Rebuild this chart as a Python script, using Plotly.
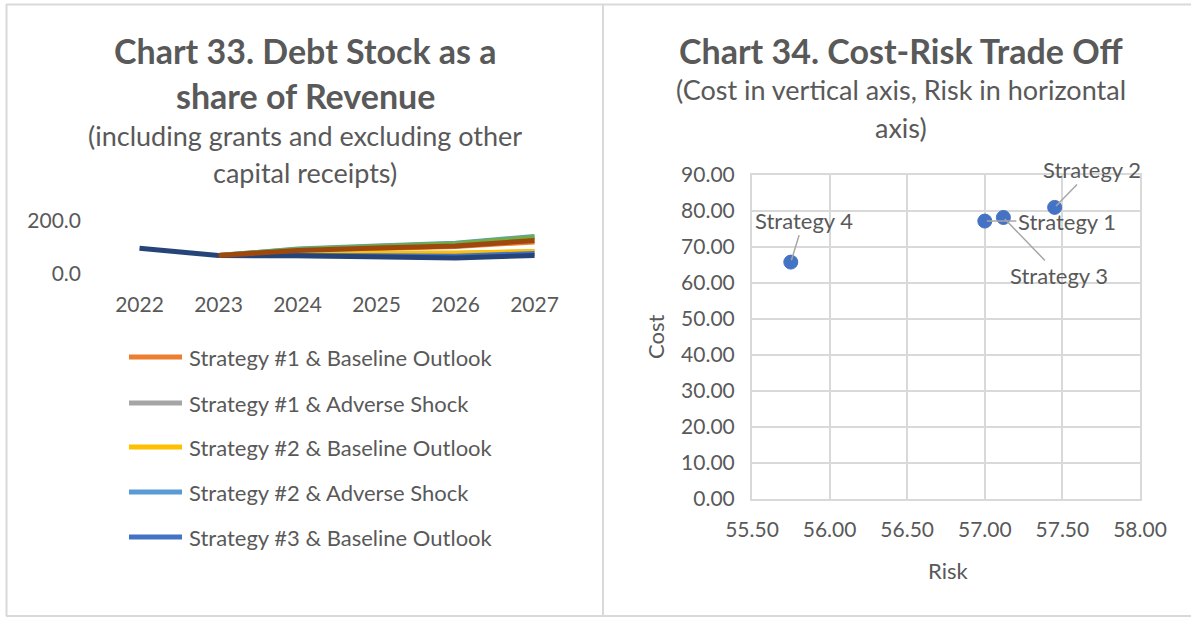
import plotly.graph_objects as go

W, H = 1191, 618

def px(x):
    return x / W

def py(y):
    return 1 - y / H

# ---------------- data ----------------
years = ["2022", "2023", "2024", "2025", "2026", "2027"]

s1_base = [None, 69, 86, 95, 103, 120]
s1_adv = [None, 69, 75, 78, 78, 83]
s2_base = [None, 69, 75, 78, 78, 84]
s2_adv = [None, 69, 93, 105, 115, 140]
s3_base = [None, 69, 70, 68, 66, 77]
s3_adv = [None, 69, 92, 103, 113, 137]
s4_base = [96, 69, 68, 65, 60, 69]
s4_adv = [None, 69, 88, 97, 105, 125]

series_names = [
    "Strategy #1 & Baseline Outlook",
    "Strategy #1 & Adverse Shock",
    "Strategy #2 & Baseline Outlook",
    "Strategy #2 & Adverse Shock",
    "Strategy #3 & Baseline Outlook",
    "Strategy #3 & Adverse Shock",
    "Strategy #4 & Baseline Outlook",
    "Strategy #4 & Adverse Shock",
]
series_values = [s1_base, s1_adv, s2_base, s2_adv, s3_base, s3_adv, s4_base, s4_adv]
series_colors = ["#ED7D31", "#A5A5A5", "#FFC000", "#5B9BD5",
                 "#4472C4", "#70AD47", "#264478", "#9E480E"]

strategies = ["Strategy 1", "Strategy 2", "Strategy 3", "Strategy 4"]
risk = [57.00, 57.45, 57.12, 55.75]
cost = [77.2, 81.0, 78.2, 65.8]

# ---------------- figure ----------------
FONT = "Lato"
TXT = "#595959"
GRID = "#D9D9D9"

fig = go.Figure()

for name, vals, col in zip(series_names, series_values, series_colors):
    fig.add_trace(go.Scatter(
        x=years, y=vals, name=name, mode="lines",
        line=dict(color=col, width=5),
        xaxis="x", yaxis="y", showlegend=False, connectgaps=False,
    ))

fig.add_trace(go.Scatter(
    x=risk, y=cost, mode="markers", text=strategies,
    marker=dict(color="#4472C4", size=14, line=dict(color="#4472C4", width=1)),
    xaxis="x2", yaxis="y2", showlegend=False,
))

TICK = 21

fig.update_layout(
    width=W, height=H,
    margin=dict(l=0, r=0, t=0, b=0, autoexpand=False),
    showlegend=False,
    paper_bgcolor="white", plot_bgcolor="white",
    font=dict(family=FONT, color=TXT, size=20),
    xaxis=dict(
        domain=[px(100), px(574)], type="category", range=[-0.5, 5.5],
        showgrid=False, showline=False, zeroline=False, ticks="",
        tickfont=dict(size=TICK, color=TXT), ticklabelstandoff=16,
        anchor="y", automargin=False,
    ),
    yaxis=dict(
        domain=[py(274), py(220.5)], range=[0, 200],
        tickvals=[0, 200], tickformat=".1f",
        showgrid=True, gridcolor=GRID, gridwidth=2,
        zeroline=False, showline=False, ticks="",
        tickfont=dict(size=TICK, color=TXT), ticklabelstandoff=18,
        anchor="x", automargin=False,
    ),
    xaxis2=dict(
        domain=[px(752), px(1140)], range=[55.5, 58.0],
        tickvals=[55.5, 56.0, 56.5, 57.0, 57.5, 58.0], tickformat=".2f",
        showgrid=True, gridcolor=GRID, gridwidth=2,
        showline=True, linecolor=GRID, linewidth=2, mirror=True,
        zeroline=False, ticks="",
        tickfont=dict(size=TICK, color=TXT), ticklabelstandoff=11,
        anchor="y2", automargin=False,
    ),
    yaxis2=dict(
        domain=[py(499), py(175)], range=[0, 90],
        dtick=10, tickformat=".2f",
        showgrid=True, gridcolor=GRID, gridwidth=2,
        showline=True, linecolor=GRID, linewidth=2, mirror=True,
        zeroline=False, ticks="",
        tickfont=dict(size=TICK, color=TXT), ticklabelstandoff=11,
        anchor="x2", automargin=False,
    ),
)

ann = []

def text(x, y, s, size, bold=False, xanchor="center", angle=0):
    ann.append(dict(
        x=px(x), y=py(y), xref="paper", yref="paper", text=(f"<b>{s}</b>" if bold else s),
        showarrow=False, xanchor=xanchor, yanchor="middle", textangle=angle,
        font=dict(family=FONT, size=size, color=TXT),
    ))

# titles
text(305, 50, "Chart 33. Debt Stock as a", 34, bold=True)
text(305, 95, "share of Revenue", 34, bold=True)
text(305, 135, "(including grants and excluding other", 27)
text(305, 172, "capital receipts)", 27)
text(901, 50, "Chart 34. Cost-Risk Trade Off", 34, bold=True)
text(901, 90, "(Cost in vertical axis, Risk in horizontal", 27)
text(901, 127, "axis)", 27)

# axis titles of scatter
text(655, 337, "Cost", 22, angle=-90)
text(948, 570, "Risk", 22)

# legend (first five series, as in reference)
shapes = []
leg_y = [357, 403, 447, 492, 537]
for name, col, ly in zip(series_names[:5], series_colors[:5], leg_y):
    shapes.append(dict(type="line", xref="paper", yref="paper",
                       x0=px(129), x1=px(182), y0=py(ly), y1=py(ly),
                       line=dict(color=col, width=5)))
    text(187, ly, name, 22, xanchor="left")

# scatter data labels with leader lines
label_offsets = {
    "Strategy 1": (82, 0),
    "Strategy 2": (37, -38),
    "Strategy 3": (56, 58),
    "Strategy 4": (13, -42),
}
for s, rx, cy in zip(strategies, risk, cost):
    ax, ay = label_offsets[s]
    ann.append(dict(
        x=rx, y=cy, xref="x2", yref="y2", text=s,
        showarrow=True, arrowhead=0, arrowwidth=1.5, arrowcolor="#A6A6A6",
        ax=ax, ay=ay, standoff=2,
        font=dict(family=FONT, size=22, color=TXT),
    ))

# panel borders
for x0, y0, x1, y1 in [(6, 4.5, 1191, 4.5), (6.5, 4, 6.5, 616),
                       (6, 616, 1191, 616), (603, 4, 603, 616)]:
    shapes.append(dict(type="line", xref="paper", yref="paper",
                       x0=px(x0), y0=py(y0), x1=px(x1), y1=py(y1),
                       line=dict(color=GRID, width=2)))

fig.update_layout(annotations=ann, shapes=shapes)

fig.write_html(
    "out.html",
    config={"displayModeBar": False},
    post_script="document.body.style.margin='0';document.body.style.overflow='hidden';",
)
